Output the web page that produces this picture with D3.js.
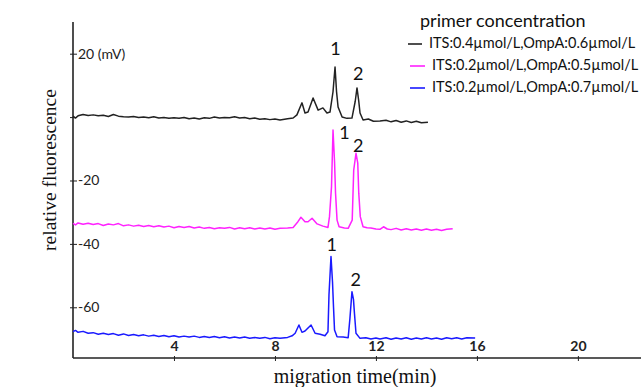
<!DOCTYPE html>
<html>
<head>
<meta charset="utf-8">
<script src="https://cdn.jsdelivr.net/npm/d3@7"></script>
<style>
  body { margin: 0; background: #fff; }
  svg { display: block; }
</style>
</head>
<body>
<svg id="chart" width="641" height="387"></svg>
<script>
// electropherogram traces, [time (min), signal (mV)]
const blackTrace = [
  [0, 0.3], [0.1, -0.3], [0.2, 0.4], [0.4, 0.8], [0.6, 0.5], [0.8, 0.7], [1.0, 0.4], [1.2, 0.6],
  [1.4, 0.2], [1.6, 0.8], [1.8, 0.3], [2.0, 0.1], [2.2, 0.0], [2.4, 0.2], [2.6, -0.1], [2.8, 0.0],
  [3.0, -0.2], [3.2, 0.1], [3.4, -0.3], [3.6, -0.1], [3.8, -0.4], [4.0, -0.2], [4.2, -0.4], [4.4, -0.1],
  [4.6, -0.5], [4.8, -0.3], [5.0, -0.6], [5.2, -0.2], [5.4, -0.4], [5.6, 0.0], [5.8, -0.3], [6.0, -0.1],
  [6.2, -0.2], [6.4, 0.1], [6.6, -0.3], [6.8, -0.1], [7.0, -0.5], [7.2, -0.3], [7.4, -0.7], [7.6, -0.5],
  [7.8, -0.8], [8.0, -0.6], [8.2, -0.9], [8.5, -0.5], [8.72, -0.3], [8.87, 0.7], [9.07, 4.5], [9.19, 1.3],
  [9.31, 1.6], [9.51, 6.0], [9.71, 2.2], [9.90, 2.9], [10.06, 1.3], [10.18, 1.6], [10.30, 8.0], [10.38, 15.8],
  [10.44, 8.0], [10.50, 3.2], [10.66, 0.0], [10.85, -0.4], [11.05, -0.3], [11.18, 5.0], [11.25, 9.2], [11.32, 5.0],
  [11.37, 1.3], [11.49, -0.9], [11.7, -0.6], [11.9, -1.3], [12.16, -1.2], [12.4, -1.0], [12.6, -1.5], [12.8, -1.1],
  [13.0, -1.6], [13.2, -1.2], [13.4, -1.7], [13.6, -1.3], [13.8, -1.8], [14.06, -1.6]
];
const pinkTrace = [
  [0, -33.5], [0.1, -34.0], [0.2, -33.4], [0.4, -33.8], [0.6, -33.5], [0.8, -33.9], [1.0, -33.6], [1.2, -34.2],
  [1.4, -33.7], [1.6, -34.0], [1.8, -33.6], [2.0, -34.3], [2.2, -34.0], [2.4, -34.4], [2.6, -34.1], [2.8, -34.5],
  [3.0, -34.2], [3.2, -34.6], [3.4, -34.3], [3.6, -34.7], [3.8, -34.4], [4.0, -34.9], [4.2, -34.5], [4.4, -34.8],
  [4.6, -34.5], [4.8, -35.0], [5.0, -34.7], [5.2, -35.1], [5.4, -34.8], [5.6, -35.2], [5.8, -34.9], [6.0, -35.1],
  [6.2, -34.8], [6.4, -35.3], [6.6, -34.9], [6.8, -35.2], [7.0, -34.9], [7.2, -35.3], [7.4, -35.0], [7.6, -35.3],
  [7.8, -35.0], [8.0, -35.4], [8.2, -35.1], [8.5, -35.0], [8.72, -34.8], [8.91, -33.0], [9.03, -31.6], [9.19, -33.0],
  [9.31, -33.0], [9.47, -31.9], [9.67, -33.7], [9.90, -34.4], [10.10, -34.8], [10.16, -31.4], [10.24, -22.0], [10.30, -4.1],
  [10.36, -14.0], [10.40, -24.0], [10.46, -32.5], [10.54, -34.6], [10.75, -35.0], [10.90, -35.1], [11.06, -32.5], [11.12, -16.7],
  [11.21, -11.4], [11.28, -14.5], [11.32, -24.0], [11.38, -31.4], [11.49, -34.6], [11.65, -34.9], [11.8, -35.0], [12.0, -35.3],
  [12.16, -35.4], [12.3, -34.6], [12.45, -35.3], [12.6, -35.5], [12.8, -35.1], [13.0, -35.6], [13.2, -35.2], [13.4, -35.6],
  [13.6, -35.3], [13.8, -35.7], [14.0, -35.3], [14.2, -35.7], [14.4, -35.4], [14.6, -35.8], [14.8, -35.4], [15.04, -35.2]
];
const blueTrace = [
  [0, -67.7], [0.1, -67.3], [0.2, -67.9], [0.4, -67.6], [0.6, -68.2], [0.8, -68.0], [1.0, -68.5], [1.2, -68.2],
  [1.4, -68.6], [1.6, -68.3], [1.8, -68.8], [2.0, -68.4], [2.2, -68.9], [2.4, -68.6], [2.6, -69.0], [2.8, -68.7],
  [3.0, -69.1], [3.2, -68.8], [3.4, -69.2], [3.6, -68.9], [3.8, -69.3], [4.0, -69.0], [4.2, -69.4], [4.4, -69.1],
  [4.6, -69.4], [4.8, -69.1], [5.0, -69.5], [5.2, -69.2], [5.4, -69.5], [5.6, -69.2], [5.8, -69.6], [6.0, -69.3],
  [6.2, -69.7], [6.4, -69.4], [6.6, -69.7], [6.8, -69.4], [7.0, -69.8], [7.2, -69.5], [7.4, -69.8], [7.6, -69.5],
  [7.8, -69.9], [8.0, -69.6], [8.2, -69.8], [8.5, -69.5], [8.68, -69.0], [8.80, -68.2], [8.95, -65.6], [9.07, -67.9],
  [9.19, -67.5], [9.43, -65.6], [9.59, -68.2], [9.79, -68.5], [9.98, -69.0], [10.10, -67.7], [10.14, -56.1], [10.22, -44.0],
  [10.28, -52.0], [10.32, -60.0], [10.36, -67.2], [10.46, -69.3], [10.70, -69.4], [10.90, -69.6], [10.97, -63.5], [11.05, -55.1],
  [11.11, -57.5], [11.15, -62.0], [11.21, -68.2], [11.37, -69.8], [11.6, -69.6], [11.8, -70.0], [12.0, -69.7], [12.16, -70.0],
  [12.4, -69.6], [12.6, -70.1], [12.8, -69.7], [13.0, -70.0], [13.2, -69.6], [13.4, -70.1], [13.6, -69.7], [13.8, -70.0],
  [14.0, -69.6], [14.2, -70.0], [14.4, -69.7], [14.6, -70.1], [14.8, -69.6], [15.0, -69.9], [15.2, -69.6], [15.4, -70.0],
  [15.6, -69.6], [15.93, -69.7]
];

const seriesNames = ['ITS:0.4\u00b5mol/L,OmpA:0.6\u00b5mol/L', 'ITS:0.2\u00b5mol/L,OmpA:0.5\u00b5mol/L', 'ITS:0.2\u00b5mol/L,OmpA:0.7\u00b5mol/L'];
const seriesColors = ['#222222', '#ff22ff', '#1a1aff'];
const traces = [blackTrace, pinkTrace, blueTrace];

// peak labels: [time, signal, text]
const peakLabels = [
  [10.4, 21.0, '1'], [11.3, 13.0, '2'],
  [10.75, -5.5, '1'], [11.3, -9.7, '2'],
  [10.25, -40.8, '1'], [11.2, -52.0, '2']
];

const xTicks = [4, 8, 12, 16, 20];
const yTicks = [20, 0, -20, -40, -60];
const yTickLabels = { '20': '20 (mV)', '0': '', '-20': '-20', '-40': '-40', '-60': '-60' };

const svg = d3.select('#chart');
const plotLeft = 73, plotRight = 641, plotTop = 22, plotBottom = 358;

const x = d3.scaleLinear().domain([0, 22.5]).range([plotLeft, plotRight]);
const y = d3.scaleLinear().domain([-76, 30]).range([plotBottom, plotTop]);

// axes
const xAxis = svg.append('g')
  .attr('transform', `translate(0,${plotBottom})`)
  .call(d3.axisTop(x).tickValues(xTicks).tickSize(3).tickPadding(4).tickFormat(d3.format('d')));
xAxis.select('.domain').attr('d', `M${plotLeft},0H${plotRight}`).attr('stroke', '#222').attr('stroke-width', 1.6);
xAxis.selectAll('.tick line').attr('y1', 3).attr('y2', -2).attr('stroke', '#222');
xAxis.selectAll('.tick text')
  .attr('font-family', 'Lato, sans-serif').attr('font-size', 14).attr('font-weight', 'bold').attr('fill', '#222');

const yAxis = svg.append('g')
  .attr('transform', `translate(${plotLeft},0)`)
  .call(d3.axisRight(y).tickValues(yTicks).tickSize(3).tickPadding(2).tickFormat(d => yTickLabels[d]));
yAxis.select('.domain').attr('d', `M0,${plotTop}V${plotBottom}`).attr('stroke', '#222').attr('stroke-width', 1.6);
yAxis.selectAll('.tick line').attr('x1', -3).attr('x2', 4).attr('stroke', '#222');
yAxis.selectAll('.tick text')
  .attr('font-family', 'Lato, sans-serif').attr('font-size', 14).attr('fill', '#222');

// traces
const line = d3.line().x(d => x(d[0])).y(d => y(d[1]));
svg.selectAll('path.trace')
  .data(traces)
  .enter()
  .append('path')
  .attr('class', 'trace')
  .attr('d', line)
  .attr('fill', 'none')
  .attr('stroke', (d, i) => seriesColors[i])
  .attr('stroke-width', 1.5)
  .attr('stroke-linejoin', 'round');

svg.selectAll('text.peak')
  .data(peakLabels)
  .enter()
  .append('text')
  .attr('class', 'peak')
  .attr('x', d => x(d[0]))
  .attr('y', d => y(d[1]))
  .attr('text-anchor', 'middle')
  .attr('dominant-baseline', 'middle')
  .attr('font-family', 'Lato, sans-serif')
  .attr('font-size', 18)
  .attr('fill', '#111')
  .text(d => d[2]);

// axis titles
svg.append('text')
  .attr('x', 355).attr('y', 383)
  .attr('text-anchor', 'middle')
  .attr('font-family', '"Liberation Serif", serif')
  .attr('font-size', 20)
  .attr('fill', '#111')
  .text('migration time(min)');

svg.append('text')
  .attr('transform', 'translate(56,170) rotate(-90)')
  .attr('text-anchor', 'middle')
  .attr('font-family', '"Liberation Serif", serif')
  .attr('font-size', 19.5)
  .attr('fill', '#111')
  .text('relative fluorescence');

// legend
const legend = svg.append('g');
legend.append('text')
  .attr('x', 420).attr('y', 27)
  .attr('font-family', 'Lato, sans-serif')
  .attr('font-size', 18)
  .attr('fill', '#111')
  .text('primer concentration');

const items = legend.selectAll('g.item')
  .data(seriesNames)
  .enter()
  .append('g')
  .attr('class', 'item')
  .attr('transform', (d, i) => `translate(0,${44 + i * 22})`);
items.append('line')
  .attr('x1', (d, i) => i === 0 ? 408 : 410).attr('x2', (d, i) => i === 0 ? 422 : 425)
  .attr('y1', 0).attr('y2', 0)
  .attr('stroke', (d, i) => seriesColors[i])
  .attr('stroke-width', 1.6);
items.append('text')
  .attr('x', (d, i) => i === 0 ? 429 : 432)
  .attr('y', 0)
  .attr('dominant-baseline', 'middle')
  .attr('font-family', 'Lato, sans-serif')
  .attr('font-size', 14.5)
  .attr('fill', '#111')
  .text(d => d);
</script>
</body>
</html>
